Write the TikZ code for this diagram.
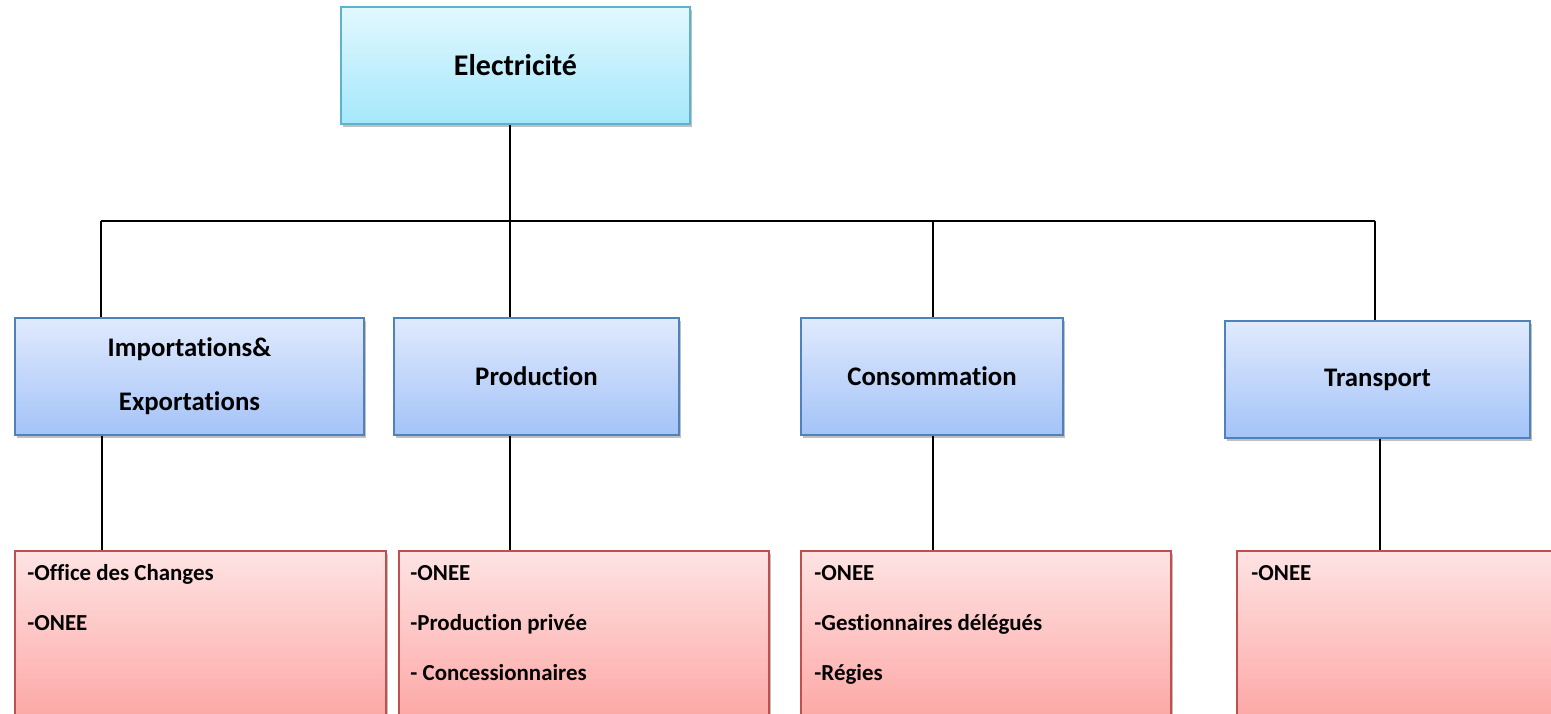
\documentclass[tikz,border=0pt]{standalone}
\usepackage{fontspec}
\setmainfont{Carlito}[Ligatures=NoCommon]
\usetikzlibrary{shadows}
\definecolor{cyanTop}{HTML}{E2F8FE}
\definecolor{cyanBot}{HTML}{A4E8FB}
\definecolor{cyanLine}{HTML}{5DB3CD}
\definecolor{blueTop}{HTML}{E0EAFD}
\definecolor{blueBot}{HTML}{A4C3F8}
\definecolor{blueLine}{HTML}{4F81BD}
\definecolor{pinkTop}{HTML}{FEE3E3}
\definecolor{pinkBot}{HTML}{FCA3A1}
\definecolor{pinkLine}{HTML}{C0504D}
\begin{document}
\begin{tikzpicture}[x=1pt,y=-1pt,
  boxbase/.style={rectangle, line width=1.5pt, inner sep=0pt,
    drop shadow={shadow xshift=1.5pt, shadow yshift=-3pt, opacity=0.35, fill=black!70}},
  topbox/.style={boxbase, draw=cyanLine, top color=cyanTop, bottom color=cyanBot,
    font=\fontsize{30}{36}\selectfont\bfseries},
  midbox/.style={boxbase, draw=blueLine, top color=blueTop, bottom color=blueBot,
    align=center, font=\fontsize{26.8}{54}\selectfont\bfseries},
  listbox/.style={boxbase, draw=pinkLine, top color=pinkTop, bottom color=pinkBot},
  listtext/.style={anchor=base west, inner sep=0pt, font=\fontsize{22.9}{27}\selectfont\bfseries},
  conn/.style={draw=black, line width=1.6pt}
]
\clip (0,0) rectangle (1551,714);
\fill[white] (0,0) rectangle (1551,714);

% top
\node[topbox, minimum width=349pt, minimum height=117pt] (E) at (515.5,65.5) {Electricité};

% middle row
\node[midbox, minimum width=349pt, minimum height=117pt] (I) at (189.5,376.5) {Importations\&\\Exportations};
\node[midbox, minimum width=285pt, minimum height=117pt] (P) at (536.5,376.5) {Production};
\node[midbox, minimum width=262pt, minimum height=117pt] (C) at (932,376.5) {Consommation};
\node[midbox, minimum width=305pt, minimum height=117pt] (T) at (1377.5,379.5) {Transport};

% bottom row
\node[listbox, minimum width=371pt, minimum height=180pt] (LI) at (200.5,641) {};
\node[listbox, minimum width=370pt, minimum height=180pt] (LP) at (584,641) {};
\node[listbox, minimum width=370pt, minimum height=180pt] (LC) at (986,641) {};
\node[listbox, minimum width=340pt, minimum height=180pt] (LT) at (1407,641) {};

\node[listtext] (li1) at ([shift={(13,30)}]LI.north west) {-Office des Changes};
\node[listtext] (li2) at ([shift={(13,80)}]LI.north west) {-ONEE};
\node[listtext] (lp1) at ([shift={(12,30)}]LP.north west) {-ONEE};
\node[listtext] (lp2) at ([shift={(12,80)}]LP.north west) {-Production privée};
\node[listtext] (lp3) at ([shift={(12,130)}]LP.north west) {- Concessionnaires};
\node[listtext] (lc1) at ([shift={(14,30)}]LC.north west) {-ONEE};
\node[listtext] (lc2) at ([shift={(14,80)}]LC.north west) {-Gestionnaires délégués};
\node[listtext] (lc3) at ([shift={(14,130)}]LC.north west) {-Régies};
\node[listtext] (lt1) at ([shift={(15,30)}]LT.north west) {-ONEE};

% bus coordinates
\coordinate (jI) at (101,221);
\coordinate (jE) at (510,221);
\coordinate (jC) at (933,221);
\coordinate (jT) at (1375,221);

% connectors
\draw[conn] (E.south -| jE) -- (jE);
\draw[conn] (jI) -- (jT);
\draw[conn] (jI) -- (I.north -| jI);
\draw[conn] (jE) -- (P.north -| jE);
\draw[conn] (jC) -- (C.north -| jC);
\draw[conn] (jT) -- (T.north -| jT);

\coordinate (dI) at (102,0);
\coordinate (dP) at (510,0);
\coordinate (dC) at (933,0);
\coordinate (dT) at (1380,0);
\draw[conn] (I.south -| dI) -- (LI.north -| dI);
\draw[conn] (P.south -| dP) -- (LP.north -| dP);
\draw[conn] (C.south -| dC) -- (LC.north -| dC);
\draw[conn] (T.south -| dT) -- (LT.north -| dT);
\end{tikzpicture}
\end{document}
